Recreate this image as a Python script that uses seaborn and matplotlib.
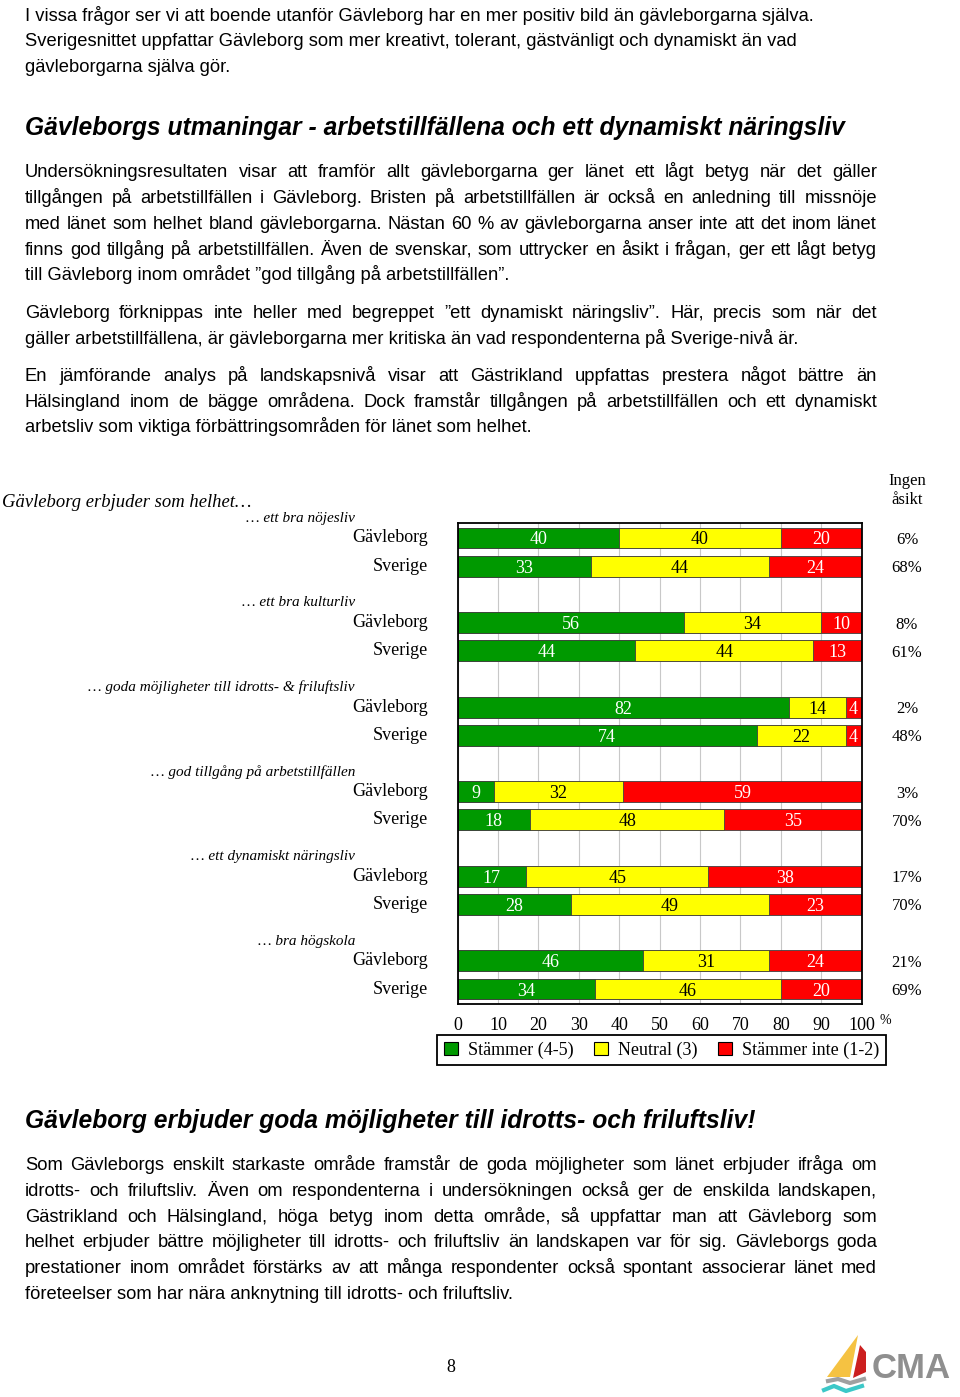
import matplotlib
matplotlib.use('Agg')
import matplotlib.pyplot as plt
from matplotlib import font_manager
from matplotlib.patches import Patch, Polygon
from matplotlib.lines import Line2D
import pandas as pd
import seaborn as sns

# ---- chart data ----
questions = ["\u2026 ett bra nöjesliv", "\u2026 ett bra kulturliv",
             "\u2026 goda möjligheter till idrotts- & friluftsliv",
             "\u2026 god tillgång på arbetstillfällen", "\u2026 ett dynamiskt näringsliv",
             "\u2026 bra högskola"]
groups = ["Gävleborg", "Sverige"]
agree_g = [40, 56, 82, 9, 17, 46]
neutral_g = [40, 34, 14, 32, 45, 31]
disagree_g = [20, 10, 4, 59, 38, 24]
agree_s = [33, 44, 74, 18, 28, 34]
neutral_s = [44, 44, 22, 48, 49, 46]
disagree_s = [24, 13, 4, 35, 23, 20]
no_opinion_g = [6, 8, 2, 3, 17, 21]
no_opinion_s = [68, 61, 48, 70, 70, 69]
legend_labels = ["Stämmer (4-5)", "Neutral (3)", "Stämmer inte (1-2)"]
xticks = list(range(0, 101, 10))

# ---- page text ----
intro = ["I vissa frågor ser vi att boende utanför Gävleborg har en mer positiv bild än gävleborgarna själva.",
         "Sverigesnittet uppfattar Gävleborg som mer kreativt, tolerant, gästvänligt och dynamiskt än vad",
         "gävleborgarna själva gör."]
heading1 = "Gävleborgs utmaningar - arbetstillfällena och ett dynamiskt näringsliv"
para1 = ["Undersökningsresultaten visar att framför allt gävleborgarna ger länet ett lågt betyg när det gäller",
         "tillgången på arbetstillfällen i Gävleborg. Bristen på arbetstillfällen är också en anledning till missnöje",
         "med länet som helhet bland gävleborgarna. Nästan 60 % av gävleborgarna anser inte att det inom länet",
         "finns god tillgång på arbetstillfällen. Även de svenskar, som uttrycker en åsikt i frågan, ger ett lågt betyg",
         "till Gävleborg inom området \u201dgod tillgång på arbetstillfällen\u201d."]
para2 = ["Gävleborg förknippas inte heller med begreppet \u201dett dynamiskt näringsliv\u201d. Här, precis som när det",
         "gäller arbetstillfällena, är gävleborgarna mer kritiska än vad respondenterna på Sverige-nivå är."]
para3 = ["En jämförande analys på landskapsnivå visar att Gästrikland uppfattas prestera något bättre än",
         "Hälsingland inom de bägge områdena. Dock framstår tillgången på arbetstillfällen och ett dynamiskt",
         "arbetsliv som viktiga förbättringsområden för länet som helhet."]
heading2 = "Gävleborg erbjuder goda möjligheter till idrotts- och friluftsliv!"
para4 = ["Som Gävleborgs enskilt starkaste område framstår de goda möjligheter som länet erbjuder ifråga om",
         "idrotts- och friluftsliv. Även om respondenterna i undersökningen också ger de enskilda landskapen,",
         "Gästrikland och Hälsingland, höga betyg inom detta område, så uppfattar man att Gävleborg som",
         "helhet erbjuder bättre möjligheter till idrotts- och friluftsliv än landskapen var för sig.  Gävleborgs goda",
         "prestationer inom området förstärks av att många respondenter också spontant associerar länet med",
         "företeelser som har nära anknytning till idrotts- och friluftsliv."]

GREEN, YELLOW, RED = '#009900', '#ffff00', '#ff0000'
SERIF = 'Liberation Serif'
W, H = 960, 1397


def fx(x):
    return x / W


def fy(y):
    return 1 - y / H


names = {f.name for f in font_manager.fontManager.ttflist}
SANS = 'Liberation Sans Narrow' if 'Liberation Sans Narrow' in names else 'Liberation Sans'

fig = plt.figure(figsize=(9.6, 13.97), dpi=100)
renderer = fig.canvas.get_renderer()


def text_width(s, **kw):
    t = fig.text(0, 0, s, **kw)
    w = t.get_window_extent(renderer).width
    t.remove()
    return w


body_size = 10 * 793 / text_width(intro[0], family=SANS, fontsize=10)
h1_size = 10 * 820 / text_width(heading1, family=SANS, fontsize=10, weight='bold', style='italic')
h2_size = 10 * 730 / text_width(heading2, family=SANS, fontsize=10, weight='bold', style='italic')
base_off = 0.36 * body_size * 100 / 72   # centre of caps -> baseline, in px
X0, X1 = 25, 877


def put_line(s, y, justify=True):
    kw = dict(family=SANS, fontsize=body_size, va='baseline', ha='left')
    yb = fy(y + base_off)
    if not justify:
        fig.text(fx(X0), yb, s, **kw)
        return
    words = s.split()
    objs = [fig.text(0, yb, w, **kw) for w in words]
    widths = [o.get_window_extent(renderer).width for o in objs]
    gap = (X1 - X0 - sum(widths)) / (len(words) - 1)
    x = X0
    for o, w in zip(objs, widths):
        o.set_x(fx(x))
        x += w + gap


def put_para(lines, ys, justify_all=True):
    for i, (s, y) in enumerate(zip(lines, ys)):
        put_line(s, y, justify_all and i < len(lines) - 1)


put_para(intro, [14, 39, 65], justify_all=False)
fig.text(fx(X0), fy(128), heading1, family=SANS, fontsize=h1_size, weight='bold',
         style='italic', va='center')
put_para(para1, [170, 196, 222, 248, 273])
put_para(para2, [311, 337])
put_para(para3, [374, 400, 425])
fig.text(fx(X0), fy(1121), heading2, family=SANS, fontsize=h2_size, weight='bold',
         style='italic', va='center')
put_para(para4, [1163, 1189, 1215, 1240, 1266, 1292])

# ---- chart ----
rows = []
for i, q in enumerate(questions):
    for j, (a, n, d, no) in enumerate([(agree_g[i], neutral_g[i], disagree_g[i], no_opinion_g[i]),
                                       (agree_s[i], neutral_s[i], disagree_s[i], no_opinion_s[i])]):
        rows.append(dict(pos=3 * i + j, group=groups[j], agree=a, neutral=n, disagree=d, no_opinion=no))
df = pd.DataFrame(rows)
df['c1'] = df['agree']
df['c2'] = df['agree'] + df['neutral']
df['c3'] = df['c2'] + df['disagree']

ax = fig.add_axes([fx(457.5), fy(1004), (861.7 - 457.5) / W, (1004 - 523) / H])
for col, colr in [('c3', RED), ('c2', YELLOW), ('c1', GREEN)]:
    sns.barplot(data=df, x=col, y='pos', orient='h', native_scale=True, color=colr,
                saturation=1, width=0.74, edgecolor='#404040', linewidth=0.6,
                errorbar=None, ax=ax, zorder=2)

ax.set_xlim(0, 100)
ax.set_ylim(16.53, -0.53)
ax.set_xticks(xticks)
ax.set_xticklabels([str(t) for t in xticks], family=SERIF, fontsize=13)
ax.set_yticks([])
ax.set_xlabel('')
ax.set_ylabel('')
ax.tick_params(axis='x', length=0, pad=9)
ax.grid(axis='x', color='#c8c8c8', linewidth=0.8, zorder=0)
ax.set_axisbelow(True)
for sp in ax.spines.values():
    sp.set_color('black')
    sp.set_linewidth(1.3)

# value labels inside segments
for _, r in df.iterrows():
    segs = [(0, r['c1'], r['agree'], 'white'),
            (r['c1'], r['c2'], r['neutral'], 'black'),
            (r['c2'], r['c3'], r['disagree'], 'white')]
    for start, end, val, tc in segs:
        xc = (start + min(end, 100)) / 2
        ax.text(xc, r['pos'], f"{val:g}", ha='center', va='center_baseline', color=tc,
                family=SERIF, fontsize=13, zorder=5)

ytr = ax.get_yaxis_transform()
for _, r in df.iterrows():
    ax.text(-0.073, r['pos'], r['group'], transform=ytr, ha='right', va='center',
            family=SERIF, fontsize=13)
    ax.text(1.112, r['pos'], f"{r['no_opinion']:g}%", transform=ytr, ha='center',
            va='center_baseline', family=SERIF, fontsize=12)
for i, q in enumerate(questions):
    ax.text(-0.2536, 3 * i - 0.7, q, transform=ytr, ha='right', va='center',
            family=SERIF, style='italic', fontsize=11)

fig.text(fx(2), fy(502), "Gävleborg erbjuder som helhet\u2026", family=SERIF, style='italic',
         fontsize=13.4, va='center')
fig.text(fx(907), fy(481), "Ingen", family=SERIF, fontsize=12, ha='center', va='center')
fig.text(fx(907), fy(500), "åsikt", family=SERIF, fontsize=12, ha='center', va='center')
fig.text(fx(885), fy(1020), "%", family=SERIF, fontsize=10, ha='center', va='center')

handles = [Patch(facecolor=c, edgecolor='black', linewidth=0.8) for c in (GREEN, YELLOW, RED)]
leg = fig.legend(handles, legend_labels, loc='center', bbox_to_anchor=(fx(661.5), fy(1050)),
                 ncol=3, frameon=True, fancybox=False, edgecolor='black', framealpha=1,
                 handlelength=0.78, handleheight=0.78, handletextpad=0.55, columnspacing=1.15,
                 borderpad=0.35, borderaxespad=0, prop={'family': SERIF, 'size': 13})
leg.get_frame().set_linewidth(1.3)

# page number
fig.text(fx(451), fy(1368), "8", family=SERIF, fontsize=13, ha='center', va='center')

# CMA logo
fig.add_artist(Polygon([(fx(827), fy(1377)), (fx(858), fy(1335)), (fx(850), fy(1377))],
                       closed=True, facecolor='#f5c242', edgecolor='none', transform=fig.transFigure))
fig.add_artist(Polygon([(fx(853), fy(1378)), (fx(860), fy(1345)), (fx(866), fy(1352)),
                        (fx(866), fy(1372))],
                       closed=True, facecolor='#cc1f1f', edgecolor='none', transform=fig.transFigure))
fig.add_artist(Line2D([fx(828), fx(838), fx(850), fx(864)],
                      [fy(1381), fy(1379), fy(1383), fy(1379)], color='#a0a0a0', lw=3,
                      transform=fig.transFigure))
fig.add_artist(Line2D([fx(824), fx(834), fx(846), fx(862)],
                      [fy(1390), fy(1386), fy(1391), fy(1386)], color='#3cc8c8', lw=3,
                      transform=fig.transFigure))
fig.text(fx(872), fy(1369), "CMA", family='Liberation Sans', weight='bold', fontsize=25,
         color='#8f8f8f', va='center', ha='left')

fig.savefig('out.png', dpi=100, facecolor='white')
